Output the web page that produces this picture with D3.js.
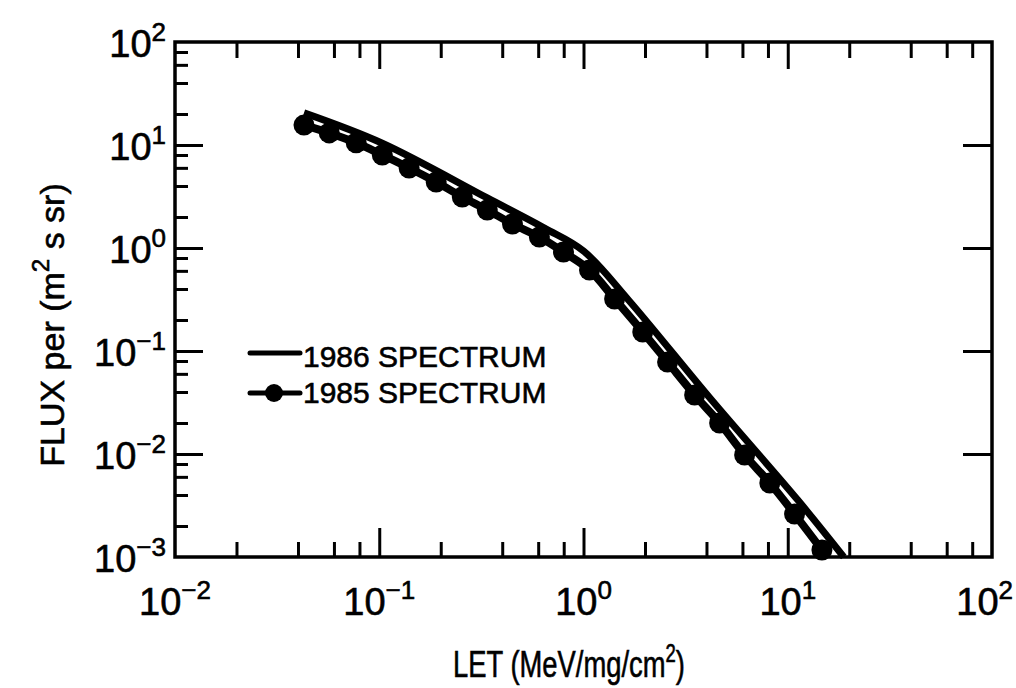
<!DOCTYPE html>
<html>
<head>
<meta charset="utf-8">
<script src="https://cdn.jsdelivr.net/npm/d3@7"></script>
<style>
  body { margin: 0; background: #fff; }
  text { font-family: "Liberation Sans", Arial, sans-serif; fill: #000; stroke: #000; stroke-width: 0.6px; }
</style>
</head>
<body>
<svg id="chart" width="1016" height="688"></svg>
<script>
// 1985 spectrum (dots), LET in MeV/mg/cm2, flux per (m2 s sr)
const let1985 = [0.0428, 0.0569, 0.0771, 0.1035, 0.140, 0.190, 0.255, 0.338, 0.449, 0.608, 0.798,
                 1.07, 1.42, 1.95, 2.58, 3.50, 4.64, 6.15, 8.17, 10.8, 14.7];
const flux1985 = [15.6, 13.1, 10.5, 8.0, 5.98, 4.37, 3.13, 2.34, 1.71, 1.28, 0.914,
                  0.611, 0.320, 0.153, 0.0781, 0.0374, 0.0200, 0.00977, 0.00523, 0.00261, 0.00117];

// 1986 spectrum (solid line)
const let1986 = [0.0428, 0.1035, 0.338, 0.644, 1.0, 1.66, 4.24, 11.2, 18.8];
const flux1986 = [20.5, 10.4, 3.06, 1.56, 0.935, 0.313, 0.0334, 0.00357, 0.001];

const xExps = [-2, -1, 0, 1, 2];
const yExps = [-3, -2, -1, 0, 1, 2];
const legendLabels = ["1986 SPECTRUM", "1985 SPECTRUM"];

const svg = d3.select('#chart');
const plotL = 175, plotR = 992, plotT = 42, plotB = 557;

const x = d3.scaleLog().domain([1e-2, 1e2]).range([plotL, plotR]);
const y = d3.scaleLog().domain([1e-3, 1e2]).range([plotB, plotT]);

const minors = (lo, hi) => {
  const out = [];
  for (let k = lo; k < hi; k++) [2, 4, 6, 8].forEach(m => out.push(m * Math.pow(10, k)));
  return out;
};

const xMajorInner = [1e-1, 1, 1e1];
const yMajorInner = [1e-2, 1e-1, 1, 1e1];
const xMinor = minors(-2, 2);
const yMinor = minors(-3, 2);

function tickAxis(axis, tx, ty) {
  const g = svg.append('g').attr('transform', `translate(${tx},${ty})`).call(axis);
  g.select('.domain').remove();
  g.selectAll('.tick line').attr('stroke', '#000').attr('stroke-width', 3);
  g.selectAll('.tick text').remove();
  return g;
}

// bottom (ticks pointing up)
tickAxis(d3.axisTop(x).tickValues(xMajorInner).tickSize(29).tickFormat(''), 0, plotB);
tickAxis(d3.axisTop(x).tickValues(xMinor).tickSize(15).tickFormat(''), 0, plotB);
// top (ticks pointing down)
tickAxis(d3.axisBottom(x).tickValues(xMajorInner).tickSize(27).tickFormat(''), 0, plotT);
tickAxis(d3.axisBottom(x).tickValues(xMinor).tickSize(16).tickFormat(''), 0, plotT);
// left (ticks pointing right)
tickAxis(d3.axisRight(y).tickValues(yMajorInner).tickSize(28).tickFormat(''), plotL, 0);
tickAxis(d3.axisRight(y).tickValues(yMinor).tickSize(13).tickFormat(''), plotL, 0);
// right (major ticks only, pointing left)
tickAxis(d3.axisLeft(y).tickValues(yMajorInner).tickSize(29).tickFormat(''), plotR, 0);

// frame
svg.append('rect')
  .attr('x', plotL).attr('y', plotT)
  .attr('width', plotR - plotL).attr('height', plotB - plotT)
  .attr('fill', 'none').attr('stroke', '#000').attr('stroke-width', 3.5);

// tick labels with superscript exponents
function powLabel(sel, k) {
  sel.append('tspan').text('10');
  sel.append('tspan').attr('font-size', 26).attr('dy', -16)
    .text(k < 0 ? '\u2212' + Math.abs(k) : String(k));
}

xExps.forEach(k => {
  const last = k === xExps[xExps.length - 1];
  const t = svg.append('text')
    .attr('x', last ? 1013 : x(Math.pow(10, k))).attr('y', 615)
    .attr('text-anchor', last ? 'end' : 'middle').attr('font-size', 38);
  powLabel(t, k);
});

yExps.forEach(k => {
  const t = svg.append('text')
    .attr('x', 166).attr('y', y(Math.pow(10, k)) + 15)
    .attr('text-anchor', 'end').attr('font-size', 38);
  powLabel(t, k);
});

// axis titles (x title is set in a condensed face in the original)
const xt = svg.append('text').attr('transform', 'translate(569,677) scale(0.74,1)')
  .attr('text-anchor', 'middle').attr('font-size', 37);
xt.append('tspan').text('LET (MeV/mg/cm');
xt.append('tspan').attr('font-size', 25).attr('dy', -15).text('2');
xt.append('tspan').attr('dy', 15).text(')');

const yt = svg.append('text')
  .attr('transform', 'translate(64,325) rotate(-90)')
  .attr('text-anchor', 'middle').attr('font-size', 34);
yt.append('tspan').text('FLUX per (m');
yt.append('tspan').attr('font-size', 24).attr('dy', -15).text('2');
yt.append('tspan').attr('dy', 15).text(' s sr)');

// curves
const pts1985 = let1985.map((v, i) => [v, flux1985[i]]);
const pts1986 = let1986.map((v, i) => [v, flux1986[i]]);

const line = d3.line()
  .x(d => x(d[0])).y(d => y(d[1]))
  .curve(d3.curveCatmullRom.alpha(0.5));

svg.append('path').datum(pts1985)
  .attr('d', line).attr('fill', 'none')
  .attr('stroke', '#000').attr('stroke-width', 8)
  .attr('stroke-linejoin', 'round');

svg.selectAll('circle.dot').data(pts1985).enter().append('circle')
  .attr('class', 'dot')
  .attr('cx', d => x(d[0])).attr('cy', d => y(d[1]))
  .attr('r', 10.5).attr('fill', '#000');

svg.append('path').datum(pts1986)
  .attr('d', line).attr('fill', 'none')
  .attr('stroke', '#000').attr('stroke-width', 7)
  .attr('stroke-linejoin', 'round');

// legend
const lg = svg.append('g');
lg.append('line').attr('x1', 250).attr('x2', 300).attr('y1', 353).attr('y2', 353)
  .attr('stroke', '#000').attr('stroke-width', 5).attr('stroke-linecap', 'round');
lg.append('line').attr('x1', 250).attr('x2', 300).attr('y1', 393).attr('y2', 393)
  .attr('stroke', '#000').attr('stroke-width', 5).attr('stroke-linecap', 'round');
lg.append('circle').attr('cx', 274).attr('cy', 393).attr('r', 9).attr('fill', '#000');
legendLabels.forEach((s, i) => {
  lg.append('text').attr('x', 303).attr('y', 367 + i * 36)
    .attr('font-size', 30).text(s);
});
</script>
</body>
</html>
